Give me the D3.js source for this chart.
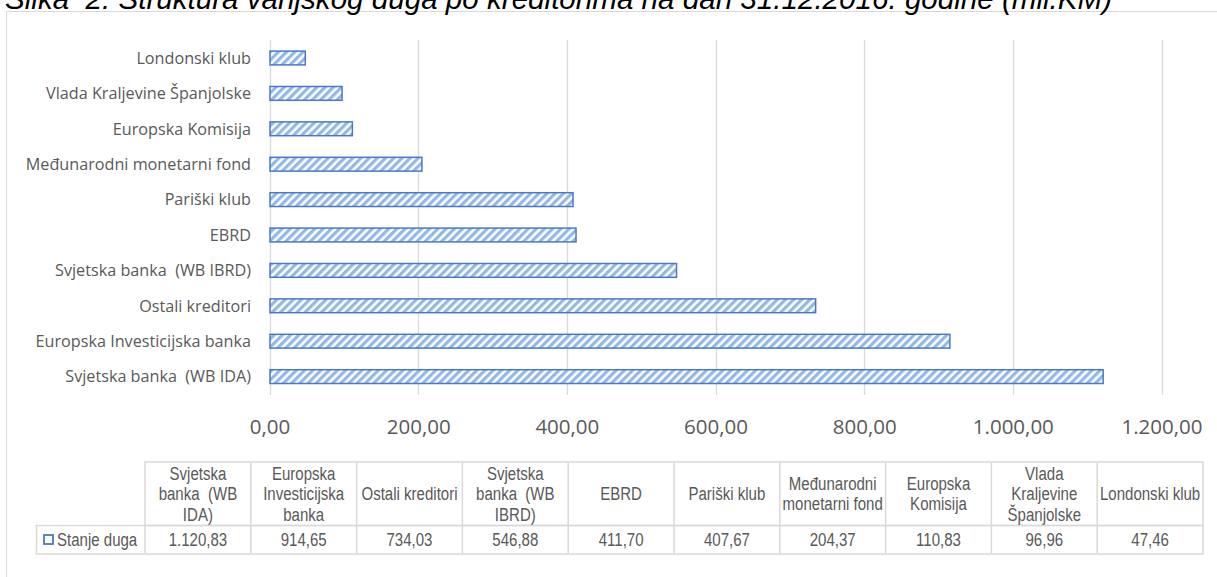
<!DOCTYPE html>
<html lang="hr">
<head>
<meta charset="utf-8">
<title>Struktura vanjskog duga po kreditorima</title>
<script src="https://d3js.org/d3.v7.min.js"></script>
<style>
  body { margin: 0; background: #fff; }
  svg { display: block; }
  .title { font-family: "Liberation Sans", Arial, sans-serif; font-style: italic; font-size: 29.6px; fill: #000; white-space: pre; }
  .cat { font-family: "Open Sans", sans-serif; font-size: 16.2px; fill: #595959; white-space: pre; }
  .x-axis text { font-family: "Open Sans", sans-serif; font-size: 20.5px; fill: #595959; }
  .tbl { font-family: "Liberation Sans", Arial, sans-serif; font-size: 18px; fill: #595959; white-space: pre; }
</style>
</head>
<body>
<div id="chart"></div>
<script>
// Data
const categories = ["Svjetska banka  (WB IDA)", "Europska Investicijska banka", "Ostali kreditori",
  "Svjetska banka  (WB IBRD)", "EBRD", "Pariški klub", "Međunarodni monetarni fond",
  "Europska Komisija", "Vlada Kraljevine Španjolske", "Londonski klub"];
const values = [1120.83, 914.65, 734.03, 546.88, 411.70, 407.67, 204.37, 110.83, 96.96, 47.46];
const headerLines = [["Svjetska", "banka  (WB", "IDA)"], ["Europska", "Investicijska", "banka"], ["Ostali kreditori"],
  ["Svjetska", "banka  (WB", "IBRD)"], ["EBRD"], ["Pariški klub"], ["Međunarodni", "monetarni fond"],
  ["Europska", "Komisija"], ["Vlada", "Kraljevine", "Španjolske"], ["Londonski klub"]];
const xTicks = [0, 200, 400, 600, 800, 1000, 1200];
const seriesName = "Stanje duga";
const titleText = "Slika  2: Struktura vanjskog duga po kreditorima na dan 31.12.2016. godine (mil.KM)";

const data = categories.map((c, i) => ({ cat: c, value: values[i], header: headerLines[i] }));

// Dimensions
const width = 1217;
const height = 577;
const narrow = 0.835; // squeeze for the table font (Arial Narrow look)

const locale = d3.formatLocale({ decimal: ",", thousands: ".", grouping: [3], currency: ["", ""] });
const fmt = locale.format(",.2f");

const svg = d3.select("#chart").append("svg")
  .attr("width", width)
  .attr("height", height);

// Pattern for bars
const defs = svg.append("defs");
const pat = defs.append("pattern")
  .attr("id", "hatch")
  .attr("patternUnits", "userSpaceOnUse")
  .attr("width", 5.8)
  .attr("height", 5.8)
  .attr("patternTransform", "rotate(45)");
pat.append("rect").attr("width", 5.8).attr("height", 5.8).attr("fill", "#fff");
pat.append("rect").attr("width", 3.2).attr("height", 5.8).attr("fill", "#92b8e8");

// Frame
svg.append("rect")
  .attr("x", 6.5).attr("y", 11.5)
  .attr("width", 1240).attr("height", 600)
  .attr("fill", "none")
  .attr("stroke", "#d9d9d9");

// Title (top is cropped in the original)
svg.append("text")
  .attr("class", "title")
  .attr("x", 5)
  .attr("y", 9)
  .text(titleText);

// Scales
const x = d3.scaleLinear()
  .domain([0, 1200])
  .range([269.5, 1161.5]);

const y = d3.scaleBand()
  .domain(categories.slice().reverse())
  .range([40.3, 394.3])
  .paddingInner(0.61)
  .paddingOuter(0.305);

// Gridlines
svg.append("g")
  .selectAll("line")
  .data(xTicks)
  .join("line")
  .attr("x1", d => Math.round(x(d)) + 0.5)
  .attr("x2", d => Math.round(x(d)) + 0.5)
  .attr("y1", 40)
  .attr("y2", 395)
  .attr("stroke", "#d9d9d9")
  .attr("stroke-width", 1.3);

// X axis labels
svg.append("g")
  .attr("class", "x-axis")
  .attr("transform", "translate(0,395)")
  .call(d3.axisBottom(x).tickValues(xTicks).tickFormat(fmt).tickSize(0).tickPadding(24))
  .call(g => g.select(".domain").remove());

// Bars
svg.append("g")
  .selectAll("rect")
  .data(data)
  .join("rect")
  .attr("x", x(0) + 0.5)
  .attr("y", d => y(d.cat))
  .attr("width", d => x(d.value) - x(0))
  .attr("height", y.bandwidth())
  .attr("fill", "url(#hatch)")
  .attr("stroke", "#4a78c6")
  .attr("stroke-width", 1.5);

// Category labels
svg.append("g")
  .selectAll("text")
  .data(data)
  .join("text")
  .attr("class", "cat")
  .attr("x", 251)
  .attr("y", d => y(d.cat) + y.bandwidth() / 2)
  .attr("dy", "0.36em")
  .attr("text-anchor", "end")
  .text(d => d.cat);

// Data table
const col = d3.scaleBand()
  .domain(categories)
  .range([145, 1203]);

const rowTop = 462, rowMid = 525.5, rowBot = 554, labelLeft = 36.5;
const table = svg.append("g")
  .attr("fill", "none")
  .attr("stroke", "#d9d9d9")
  .attr("stroke-width", 1.5);

table.append("rect")
  .attr("x", col.range()[0]).attr("y", rowTop)
  .attr("width", col.range()[1] - col.range()[0]).attr("height", rowMid - rowTop);
table.append("rect")
  .attr("x", labelLeft).attr("y", rowMid)
  .attr("width", col.range()[1] - labelLeft).attr("height", rowBot - rowMid);
table.selectAll("line.sep")
  .data(categories.slice(1))
  .join("line")
  .attr("class", "sep")
  .attr("x1", d => col(d)).attr("x2", d => col(d))
  .attr("y1", rowTop).attr("y2", rowBot);
table.append("line")
  .attr("x1", col.range()[0]).attr("x2", col.range()[0])
  .attr("y1", rowMid).attr("y2", rowBot);

// Header texts
const heads = svg.append("g")
  .selectAll("text")
  .data(data)
  .join("text")
  .attr("class", "tbl")
  .attr("text-anchor", "middle")
  .attr("transform", d => `translate(${col(d.cat) + col.bandwidth() / 2},${(rowTop + rowMid) / 2}) scale(${narrow},1)`);

heads.selectAll("tspan")
  .data(d => d.header.map((t, i) => ({ t, i, n: d.header.length })))
  .join("tspan")
  .attr("x", 0)
  .attr("y", d => (d.i - (d.n - 1) / 2) * 20.5)
  .attr("dy", "0.35em")
  .text(d => d.t);

// Values
svg.append("g")
  .selectAll("text")
  .data(data)
  .join("text")
  .attr("class", "tbl")
  .attr("text-anchor", "middle")
  .attr("transform", d => `translate(${col(d.cat) + col.bandwidth() / 2},${(rowMid + rowBot) / 2}) scale(${narrow},1)`)
  .attr("dy", "0.36em")
  .text(d => fmt(d.value));

// Legend key + series name
svg.append("rect")
  .attr("x", 44).attr("y", 535)
  .attr("width", 9).attr("height", 9)
  .attr("fill", "#fff")
  .attr("stroke", "#4a78c6")
  .attr("stroke-width", 1.8);

svg.append("text")
  .attr("class", "tbl")
  .attr("transform", `translate(57,${(rowMid + rowBot) / 2}) scale(${narrow},1)`)
  .attr("dy", "0.36em")
  .text(seriesName);
</script>
</body>
</html>
